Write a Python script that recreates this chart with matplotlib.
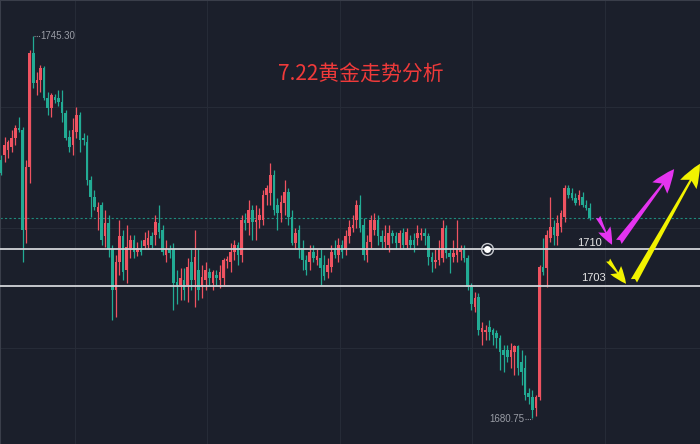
import numpy as np
import matplotlib
matplotlib.use("Agg")
import matplotlib.pyplot as plt

# OHLC, one entry per candle (left to right)
opens = [1724.4, 1725.2, 1726.0, 1726.6, 1728.1, 1729.8, 1729.4, 1712.5, 1723.2, 1742.4,
         1737.4, 1737.9, 1739.9, 1734.8, 1733.1, 1735.0, 1734.8, 1734.1, 1732.3, 1728.2,
         1726.9, 1729.1, 1731.9, 1728.1, 1727.4, 1721.0, 1718.1, 1715.6, 1716.8, 1711.4,
         1713.7, 1709.2, 1702.4, 1707.1, 1711.4, 1705.8, 1709.5, 1710.8, 1708.8, 1709.5,
         1709.8, 1710.0, 1711.4, 1711.7, 1713.7, 1712.5, 1708.3, 1709.2, 1709.2, 1703.7,
         1703.2, 1704.1, 1703.2, 1707.1, 1704.1, 1705.8, 1702.9, 1704.1, 1705.4, 1703.6,
         1704.9, 1704.1, 1704.4, 1707.3, 1707.1, 1708.8, 1710.0, 1708.3, 1714.2, 1713.7,
         1715.9, 1713.9, 1714.2, 1714.2, 1718.4, 1718.8, 1721.8, 1716.8, 1715.4, 1717.1,
         1719.0, 1714.7, 1710.3, 1712.5, 1709.5, 1707.5, 1707.0, 1708.8, 1707.5, 1707.8,
         1706.6, 1705.4, 1706.3, 1709.2, 1708.3, 1710.0, 1709.2, 1711.4, 1712.9, 1714.2,
         1716.8, 1713.4, 1708.3, 1710.5, 1712.5, 1714.2, 1711.4, 1710.5, 1710.0, 1712.0,
         1711.4, 1710.3, 1712.0, 1710.0, 1710.8, 1710.8, 1711.2, 1711.7, 1712.0, 1711.4,
         1708.0, 1707.1, 1707.5, 1707.8, 1712.9, 1708.6, 1708.0, 1708.3, 1708.8, 1709.5,
         1707.8, 1702.9, 1699.5, 1701.2, 1695.3, 1695.3, 1696.1, 1695.6, 1695.1, 1694.3,
         1692.2, 1692.2, 1691.1, 1691.9, 1692.8, 1690.2, 1689.2, 1685.0, 1684.3, 1682.4,
         1684.3, 1706.3, 1706.1, 1711.2, 1713.0, 1711.4, 1713.0, 1714.7, 1719.6, 1718.8,
         1717.9, 1717.6, 1718.1, 1716.8, 1716.3]
highs = [1725.2, 1728.2, 1727.7, 1729.4, 1730.3, 1731.6, 1729.9, 1724.4, 1742.9, 1745.3,
         1739.2, 1740.4, 1740.2, 1735.8, 1735.7, 1735.5, 1736.2, 1736.2, 1732.8, 1729.4,
         1731.4, 1733.3, 1732.5, 1728.9, 1728.6, 1721.7, 1719.3, 1717.3, 1717.3, 1715.9,
         1715.1, 1710.0, 1708.3, 1714.2, 1712.5, 1713.4, 1711.7, 1711.7, 1710.5, 1710.8,
         1712.2, 1712.5, 1712.2, 1715.1, 1716.8, 1713.4, 1710.8, 1710.0, 1710.3, 1705.8,
         1706.1, 1706.1, 1707.8, 1709.2, 1712.5, 1709.2, 1706.6, 1707.1, 1706.1, 1705.8,
         1705.8, 1706.6, 1707.8, 1708.1, 1710.3, 1710.8, 1710.5, 1715.1, 1715.4, 1717.6,
         1716.8, 1716.8, 1716.3, 1719.3, 1720.1, 1723.8, 1722.7, 1717.9, 1718.4, 1721.0,
         1719.6, 1715.9, 1712.9, 1713.4, 1710.8, 1708.3, 1710.0, 1710.0, 1709.2, 1709.2,
         1708.3, 1707.8, 1710.0, 1710.8, 1711.2, 1710.8, 1712.5, 1714.2, 1715.1, 1717.6,
         1718.4, 1714.6, 1711.7, 1715.1, 1715.4, 1715.1, 1712.5, 1713.4, 1713.4, 1712.5,
         1712.2, 1712.5, 1712.9, 1712.9, 1711.7, 1712.0, 1713.4, 1712.9, 1712.9, 1712.0,
         1708.8, 1709.2, 1710.8, 1714.2, 1713.4, 1709.5, 1710.8, 1714.2, 1710.0, 1710.0,
         1708.3, 1703.6, 1702.0, 1701.9, 1697.0, 1696.5, 1697.3, 1696.0, 1695.6, 1694.8,
         1693.1, 1693.1, 1693.4, 1693.1, 1693.1, 1692.2, 1691.4, 1685.8, 1685.5, 1684.6,
         1706.6, 1711.2, 1712.5, 1718.1, 1714.2, 1715.1, 1715.9, 1720.1, 1720.1, 1719.6,
         1718.8, 1719.3, 1719.0, 1717.6, 1717.1]
lows = [1721.8, 1724.0, 1724.7, 1725.7, 1726.9, 1729.1, 1707.0, 1710.3, 1720.5, 1736.5,
        1735.3, 1735.8, 1734.5, 1731.9, 1731.6, 1734.0, 1733.5, 1730.8, 1727.7, 1725.7,
        1725.2, 1728.1, 1725.7, 1726.9, 1720.1, 1714.7, 1715.9, 1712.5, 1710.0, 1709.7,
        1708.0, 1697.3, 1697.8, 1704.9, 1704.1, 1703.6, 1707.8, 1707.8, 1708.1, 1708.3,
        1709.2, 1709.2, 1709.5, 1710.0, 1711.2, 1708.3, 1707.1, 1707.8, 1699.0, 1699.9,
        1700.7, 1700.7, 1700.4, 1702.4, 1699.5, 1700.7, 1701.0, 1702.4, 1703.2, 1702.4,
        1703.2, 1702.7, 1703.2, 1706.1, 1705.4, 1707.5, 1706.6, 1707.1, 1712.5, 1711.7,
        1710.8, 1710.8, 1712.9, 1713.4, 1716.8, 1716.8, 1715.1, 1712.5, 1713.9, 1715.1,
        1713.4, 1710.0, 1709.2, 1707.8, 1705.8, 1704.9, 1705.8, 1707.1, 1706.6, 1703.2,
        1704.1, 1704.4, 1705.4, 1707.8, 1707.1, 1707.8, 1708.3, 1710.3, 1712.2, 1712.9,
        1712.2, 1707.5, 1707.1, 1709.5, 1711.7, 1710.0, 1709.5, 1709.5, 1708.8, 1710.3,
        1709.2, 1709.2, 1709.5, 1709.2, 1709.2, 1708.8, 1710.0, 1710.8, 1710.0, 1706.6,
        1705.4, 1706.1, 1706.6, 1707.1, 1707.8, 1705.3, 1707.1, 1707.1, 1707.5, 1707.1,
        1702.4, 1699.0, 1698.7, 1694.8, 1693.1, 1693.9, 1693.9, 1693.1, 1692.6, 1688.9,
        1688.5, 1690.2, 1689.2, 1688.0, 1688.0, 1686.3, 1683.8, 1683.0, 1680.75, 1681.1,
        1683.8, 1704.9, 1702.9, 1710.5, 1710.0, 1710.0, 1712.2, 1713.9, 1717.9, 1717.6,
        1716.8, 1716.8, 1716.4, 1715.9, 1714.2]
closes = [1722.1, 1726.9, 1727.4, 1728.1, 1729.8, 1729.4, 1712.5, 1723.2, 1742.4, 1737.4,
          1737.9, 1739.9, 1734.8, 1733.1, 1735.3, 1734.5, 1734.1, 1732.3, 1728.1, 1726.6,
          1729.4, 1731.9, 1727.7, 1727.7, 1721.0, 1718.1, 1716.4, 1716.4, 1710.8, 1713.7,
          1709.2, 1702.4, 1707.1, 1711.4, 1705.4, 1709.7, 1710.8, 1708.8, 1709.5, 1708.8,
          1710.8, 1711.2, 1710.0, 1713.9, 1712.2, 1708.8, 1709.2, 1708.6, 1703.6, 1703.2,
          1704.4, 1702.4, 1706.3, 1704.1, 1708.0, 1702.4, 1704.6, 1705.8, 1704.4, 1705.4,
          1704.4, 1705.4, 1707.5, 1707.6, 1708.8, 1710.0, 1708.3, 1714.2, 1713.7, 1715.9,
          1713.9, 1714.2, 1715.1, 1718.4, 1719.6, 1721.8, 1715.9, 1715.4, 1717.3, 1719.0,
          1714.7, 1710.3, 1712.0, 1709.5, 1707.5, 1705.8, 1708.8, 1707.8, 1708.1, 1706.1,
          1704.8, 1706.6, 1708.8, 1708.3, 1710.0, 1708.8, 1711.4, 1713.0, 1713.4, 1716.8,
          1712.9, 1708.3, 1710.5, 1714.2, 1714.2, 1711.4, 1710.5, 1711.5, 1712.0, 1711.4,
          1710.3, 1712.0, 1710.0, 1712.2, 1710.0, 1710.0, 1712.0, 1712.0, 1711.4, 1708.0,
          1707.1, 1707.5, 1709.2, 1712.9, 1708.6, 1708.0, 1708.6, 1709.2, 1709.5, 1707.8,
          1702.9, 1699.9, 1701.0, 1695.6, 1696.0, 1695.6, 1695.3, 1694.8, 1694.3, 1691.9,
          1691.4, 1691.1, 1692.2, 1692.8, 1689.2, 1688.5, 1684.6, 1684.3, 1682.1, 1684.3,
          1706.3, 1705.4, 1711.7, 1713.0, 1711.7, 1713.7, 1715.4, 1719.6, 1718.4, 1717.9,
          1717.1, 1718.4, 1716.8, 1716.3, 1714.6]

# hand drawn levels on the chart (line price, label)
level_prices = [1709.2, 1703.0]
level_labels = ["1710", "1703"]

title = "7.22黄金走势分析"

bg = "#1b1f2b"
up_color = "#ef5361"
down_color = "#22ab94"

o = np.array(opens)
h = np.array(highs)
l = np.array(lows)
c = np.array(closes)
idx = np.arange(len(o))
rising = c >= o
colors = np.where(rising, up_color, down_color)

fig = plt.figure(figsize=(7, 4.44), dpi=100)
fig.patch.set_facecolor(bg)
ax = fig.add_axes([0, 0, 1, 1])
ax.set_facecolor(bg)

ax.set_xlim(-0.28, 194.7)
ax.set_ylim(1676.3, 1751.4)

# faint grid
ax.set_xticks([20.6, 57.4, 94.4, 131.2, 168.2])
ax.set_yticks([1692.6, 1712.9, 1733.3])
ax.grid(True, color="#262b37", lw=0.8)
ax.tick_params(length=0, labelbottom=False, labelleft=False)
for side in ["right", "bottom"]:
    ax.spines[side].set_visible(False)
for side in ["top", "left"]:
    ax.spines[side].set_color("#3a3e4a")
ax.set_axisbelow(True)

# candles
ax.vlines(idx, l, h, colors=colors, lw=0.9, zorder=2)
body = np.maximum(np.abs(c - o), 0.3)
ax.bar(idx, body, bottom=np.minimum(o, c), width=0.72, color=colors, zorder=3)

# last price line
ax.axhline(c[-1], color="#1f8a7c", lw=0.8, ls=(0, (2, 2)), zorder=1)

# support lines
for p in level_prices:
    ax.axhline(p, color="#d2d4d8", lw=1.3, zorder=4)
ax.text(160.6, 1710.3, level_labels[0], color="#e6e6e6", fontsize=8,
        family=["Liberation Sans", "DejaVu Sans"], va="center", ha="left")
ax.text(161.7, 1704.3, level_labels[1], color="#e6e6e6", fontsize=8,
        family=["Liberation Sans", "DejaVu Sans"], va="center", ha="left")

# high / low markers
hi = int(np.argmax(h))
lo = int(np.argmin(l))
ax.plot([hi + 0.2, hi + 1.9], [h[hi], h[hi]], color="#8d909a", lw=0.8, ls=(0, (1, 1)))
ax.text(hi + 2.0, h[hi], "%.2f" % h[hi], color="#9a9da6", fontsize=7,
        family=["Liberation Sans", "DejaVu Sans"], va="center", ha="left")
ax.plot([lo - 2.0, lo - 0.2], [l[lo] - 0.3, l[lo] - 0.3], color="#8d909a", lw=0.8, ls=(0, (1, 1)))
ax.text(lo - 2.1, l[lo] - 0.3, "%.2f" % l[lo], color="#9a9da6", fontsize=7,
        family=["Liberation Sans", "DejaVu Sans"], va="center", ha="right")

# marker dot on the 1710 line
ax.plot(135.4, level_prices[0], "o", ms=8.5, mfc="none", mec="#c8cad0", mew=1.0, zorder=6)
ax.plot(135.4, level_prices[0], "o", ms=5, mfc="white", mec="none", zorder=6)

# arrows: (tail, tip, colour, size)
arrows = [
    ((166.3, 1714.7), (170.2, 1710.0), "#e534f0", 13),
    ((172.1, 1710.5), (187.5, 1722.8), "#e534f0", 18),
    ((169.1, 1707.4), (174.1, 1703.4), "#f2f200", 13),
    ((176.3, 1703.9), (194.7, 1723.7), "#f2f200", 18),
]
for tail, tip, col, ms in arrows:
    ax.annotate("", xy=tip, xytext=tail, annotation_clip=False,
                arrowprops=dict(arrowstyle="fancy,head_length=0.95,head_width=0.75,tail_width=0.28",
                                color=col, mutation_scale=ms, shrinkA=0, shrinkB=0, lw=0),
                zorder=7)

ax.text(0.516, 0.831, title, transform=ax.transAxes, color="#f03a3a", fontsize=15,
        family=["Noto Sans CJK SC", "DejaVu Sans"], ha="center", va="center")

fig.savefig("out.png", dpi=100, facecolor=bg)
